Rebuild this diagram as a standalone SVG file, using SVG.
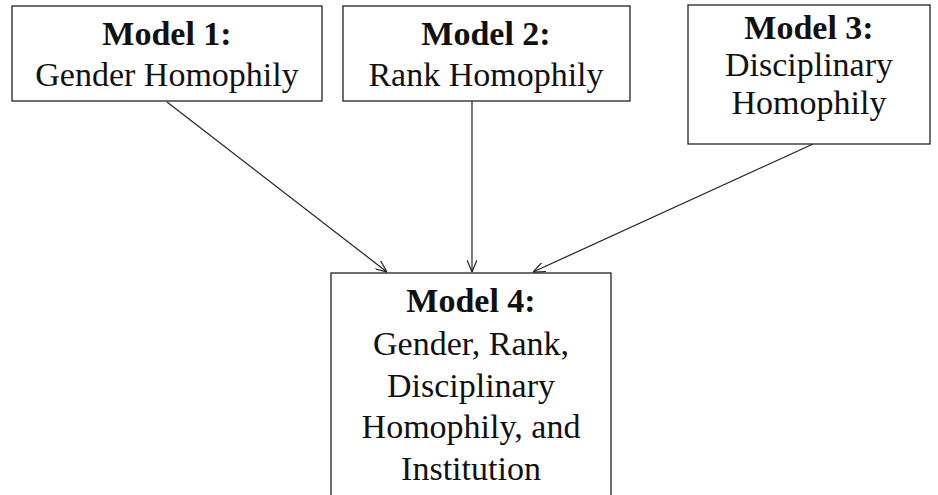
<svg xmlns="http://www.w3.org/2000/svg" width="938" height="495" viewBox="0 0 938 495">
<style>
.box{fill:#fff;stroke:#222;stroke-width:1.3}
.t{font-family:"Liberation Serif","Times New Roman",serif;font-size:34px;fill:#111;text-anchor:middle}
.b{font-weight:bold}
.c{stroke:#222;stroke-width:1.2;fill:none;marker-end:url(#ah)}
</style>
<defs>
<marker id="ah" viewBox="0 0 12 10" refX="12" refY="5" markerWidth="12" markerHeight="10" markerUnits="userSpaceOnUse" orient="auto">
<path d="M0,0 L12,5 L0,10" fill="none" stroke="#222" stroke-width="1.2"/>
</marker>
</defs>
<rect width="938" height="495" fill="#fff"/>
<g id="connectors">
<line class="c" x1="167" y1="102" x2="387" y2="272"/>
<line class="c" x1="472" y1="101" x2="472" y2="272"/>
<line class="c" x1="813" y1="144" x2="533" y2="272"/>
</g>
<g id="model1">
<rect class="box" x="12" y="6" width="310" height="95"/>
<text class="t b" x="167" y="45">Model 1:</text>
<text class="t" x="167" y="86">Gender Homophily</text>
</g>
<g id="model2">
<rect class="box" x="343" y="6" width="287" height="95"/>
<text class="t b" x="486" y="45">Model 2:</text>
<text class="t" x="486" y="86">Rank Homophily</text>
</g>
<g id="model3">
<rect class="box" x="688" y="5" width="242" height="139"/>
<text class="t b" x="809" y="39">Model 3:</text>
<text class="t" x="809" y="76">Disciplinary</text>
<text class="t" x="809" y="114">Homophily</text>
</g>
<g id="model4">
<rect class="box" x="331" y="273" width="280" height="230"/>
<text class="t b" x="471" y="312">Model 4:</text>
<text class="t" x="471" y="355">Gender, Rank,</text>
<text class="t" x="471" y="397">Disciplinary</text>
<text class="t" x="471" y="438">Homophily, and</text>
<text class="t" x="471" y="480">Institution</text>
</g>
</svg>
